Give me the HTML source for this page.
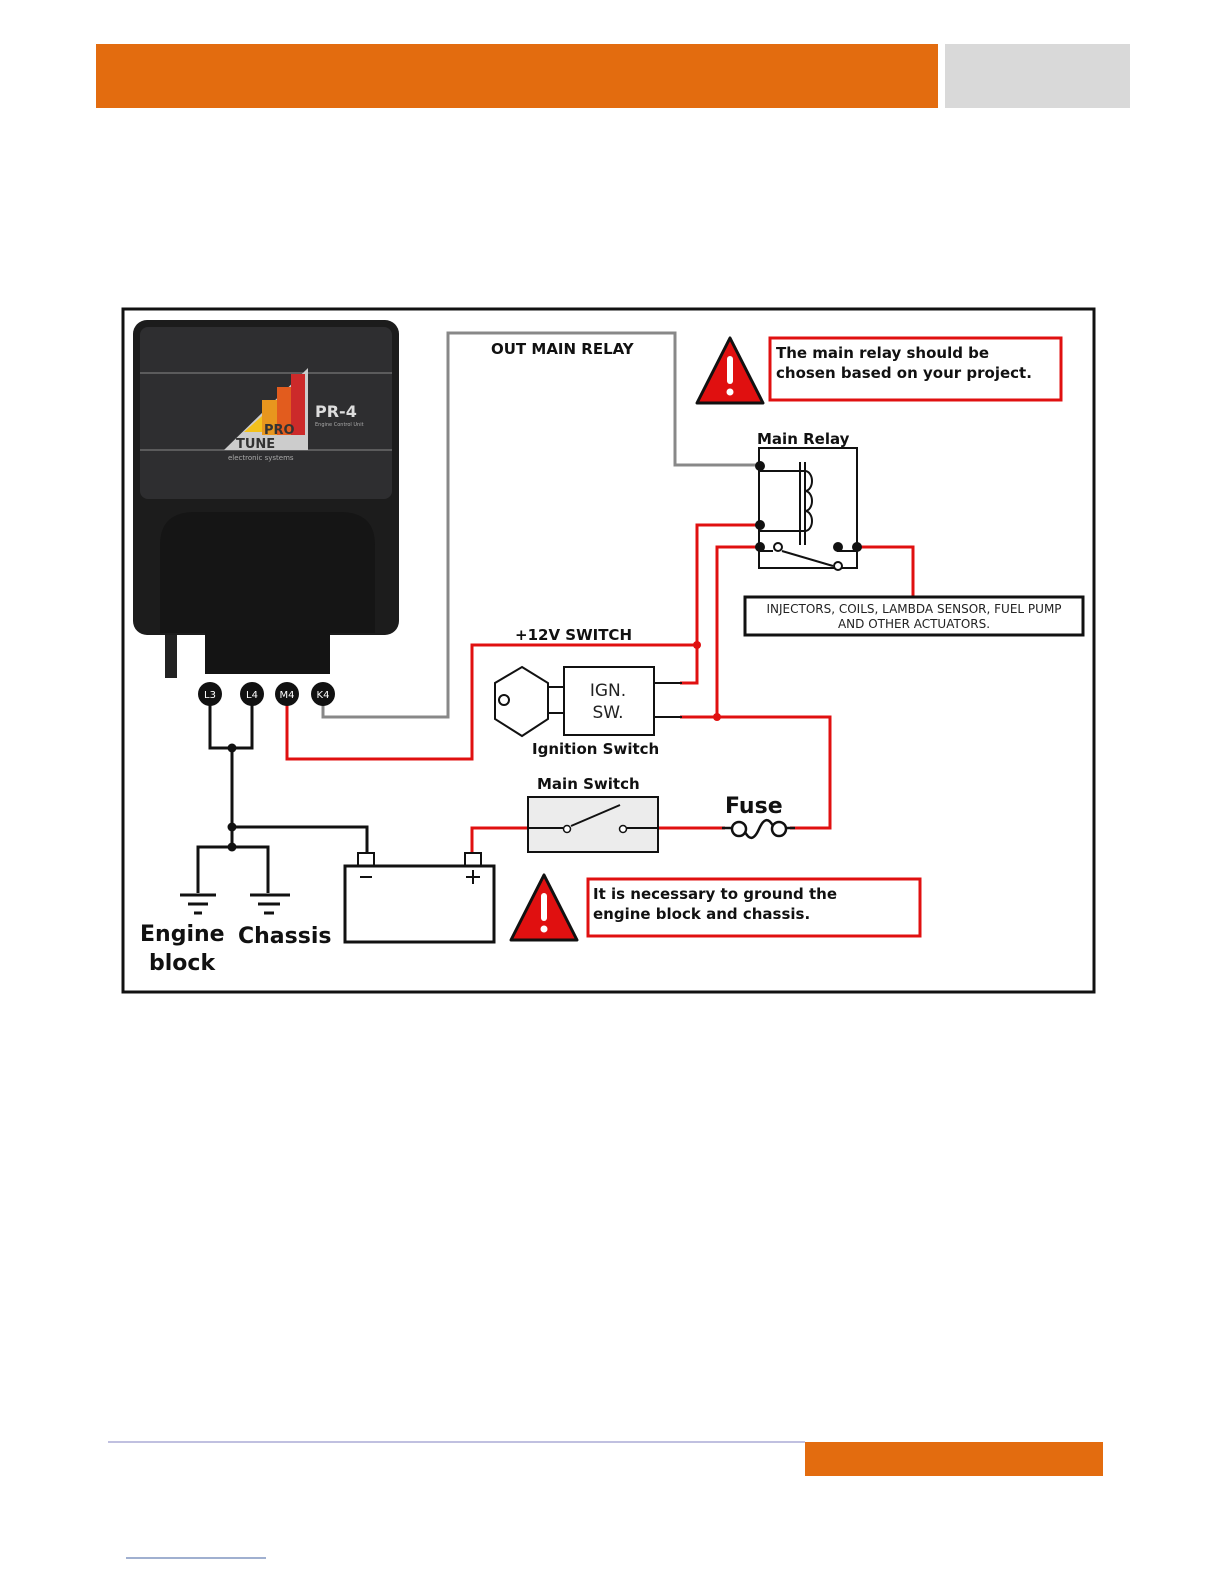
<!DOCTYPE html>
<html><head><meta charset="utf-8"><style>
html,body{margin:0;padding:0;background:#fff;}
svg{display:block;}
text{font-family:"DejaVu Sans","Liberation Sans",sans-serif;}
</style></head><body>
<svg width="1224" height="1584" viewBox="0 0 1224 1584" xmlns="http://www.w3.org/2000/svg">
<rect x="96" y="44" width="842" height="64" fill="#e36c0f"/>
<rect x="945" y="44" width="185" height="64" fill="#d9d9d9"/>
<line x1="108" y1="1442" x2="805" y2="1442" stroke="#8080c0" stroke-width="1"/>
<rect x="805" y="1442" width="298" height="34" fill="#e36c0f"/>
<line x1="126" y1="1558" x2="266" y2="1558" stroke="#4060a0" stroke-width="1"/>

<rect x="123" y="309" width="971" height="683" fill="#fff" stroke="#111" stroke-width="3"/>

<!-- ECU -->
<rect x="165" y="633" width="12" height="45" fill="#222"/>
<rect x="133" y="320" width="266" height="315" rx="14" fill="#1c1c1c"/>
<rect x="140" y="327" width="252" height="172" rx="8" fill="#2e2e30"/>
<line x1="140" y1="373" x2="392" y2="373" stroke="#888" stroke-width="1"/>
<line x1="140" y1="450" x2="392" y2="450" stroke="#888" stroke-width="1"/>
<path d="M160 633 V545 Q160 512 195 512 H340 Q375 512 375 545 V633 Z" fill="#151515"/>
<rect x="205" y="630" width="125" height="44" fill="#141414"/>
<polygon points="224,450 308,368 308,450" fill="#ccc"/>
<polygon points="244,432 262,416 262,432" fill="#f2c11c"/>
<rect x="262" y="400" width="15" height="35" fill="#e8961e"/>
<rect x="277" y="387" width="14" height="48" fill="#e25c1e"/>
<rect x="291" y="374" width="14" height="61" fill="#cc2a2a"/>
<text x="264" y="434" font-size="13" font-weight="bold" fill="#333">PRO</text>
<text x="236" y="448" font-size="13" font-weight="bold" fill="#333">TUNE</text>
<text x="228" y="460" font-size="7" fill="#aaa">electronic systems</text>
<text x="315" y="417" font-size="16" font-weight="bold" fill="#ddd">PR-4</text>
<text x="315" y="426" font-size="5" fill="#aaa">Engine Control Unit</text>

<!-- gray wire -->
<polyline points="323,700 323,717 448,717 448,333 675,333 675,465 760,465" fill="none" stroke="#888" stroke-width="3"/>
<text x="491" y="354" font-size="15" font-weight="bold" fill="#111">OUT MAIN RELAY</text>

<!-- red wires -->
<g fill="none" stroke="#e01010" stroke-width="3">
<polyline points="287,700 287,759 472,759 472,645 697,645"/>
<polyline points="697,645 697,525 760,525"/>
<polyline points="680,683 697,683 697,645"/>
<polyline points="760,547 717,547 717,717 830,717 830,828 790,828"/>
<line x1="680" y1="717" x2="717" y2="717"/>
<polyline points="658,828 725,828"/>
<polyline points="528,828 472,828 472,855"/>
<polyline points="857,547 913,547 913,597"/>
</g>
<circle cx="697" cy="645" r="4" fill="#e01010"/>
<circle cx="717" cy="717" r="4" fill="#e01010"/>
<text x="515" y="640" font-size="15" font-weight="bold" fill="#111">+12V SWITCH</text>

<!-- relay -->
<rect x="759" y="448" width="98" height="120" fill="#fff" stroke="#111" stroke-width="2"/>
<text x="757" y="444" font-size="15" font-weight="bold" fill="#111">Main Relay</text>
<g stroke="#111" stroke-width="2" fill="none">
<line x1="760" y1="471" x2="805" y2="471"/>
<line x1="760" y1="531" x2="805" y2="531"/>
<line x1="800" y1="462" x2="800" y2="545"/>
<line x1="805" y1="462" x2="805" y2="545"/>
<path d="M805 471 a7 10 0 0 1 0 20 a7 10 0 0 1 0 20 a7 10 0 0 1 0 20"/>
<line x1="760" y1="551" x2="773" y2="551"/>
<line x1="782" y1="551" x2="833" y2="566"/>
<line x1="837" y1="551" x2="857" y2="551"/>
</g>
<circle cx="760" cy="466" r="5" fill="#111"/>
<circle cx="760" cy="525" r="5" fill="#111"/>
<circle cx="760" cy="547" r="5" fill="#111"/>
<circle cx="778" cy="547" r="4" fill="#fff" stroke="#111" stroke-width="2"/>
<circle cx="838" cy="566" r="4" fill="#fff" stroke="#111" stroke-width="2"/>
<circle cx="838" cy="547" r="5" fill="#111"/>
<circle cx="857" cy="547" r="5" fill="#111"/>

<rect x="745" y="597" width="338" height="38" fill="#fff" stroke="#111" stroke-width="3"/>
<text x="914" y="613" font-size="12" text-anchor="middle" fill="#222">INJECTORS, COILS, LAMBDA SENSOR, FUEL PUMP</text>
<text x="914" y="628" font-size="12" text-anchor="middle" fill="#222">AND OTHER ACTUATORS.</text>

<!-- warnings -->
<polygon points="730,338 763,403 697,403" fill="#e01010" stroke="#111" stroke-width="3" stroke-linejoin="round"/>
<rect x="727" y="356" width="6" height="28" rx="3" fill="#fff"/><circle cx="730" cy="392" r="3.5" fill="#fff"/>
<rect x="770" y="338" width="291" height="62" fill="#fff" stroke="#e01010" stroke-width="3"/>
<text x="776" y="358" font-size="15" font-weight="bold" fill="#111">The main relay should be</text>
<text x="776" y="378" font-size="15" font-weight="bold" fill="#111">chosen based on your project.</text>

<polygon points="544,875 577,940 511,940" fill="#e01010" stroke="#111" stroke-width="3" stroke-linejoin="round"/>
<rect x="541" y="893" width="6" height="28" rx="3" fill="#fff"/><circle cx="544" cy="929" r="3.5" fill="#fff"/>
<rect x="588" y="879" width="332" height="57" fill="#fff" stroke="#e01010" stroke-width="3"/>
<text x="593" y="899" font-size="15" font-weight="bold" fill="#111">It is necessary to ground the</text>
<text x="593" y="919" font-size="15" font-weight="bold" fill="#111">engine block and chassis.</text>

<!-- ignition -->
<g stroke="#111" stroke-width="2" fill="#fff">
<polygon points="522,667 548,683 548,719 522,736 495,719 495,683"/>
<rect x="548" y="687" width="18" height="26"/>
<rect x="564" y="667" width="90" height="68"/>
<line x1="654" y1="683" x2="682" y2="683"/>
<line x1="654" y1="717" x2="682" y2="717"/>
<circle cx="504" cy="700" r="5"/>
</g>
<text x="608" y="696" font-size="17" text-anchor="middle" fill="#222">IGN.</text>
<text x="608" y="718" font-size="17" text-anchor="middle" fill="#222">SW.</text>
<text x="532" y="754" font-size="15" font-weight="bold" fill="#111">Ignition Switch</text>

<!-- main switch & fuse -->
<rect x="528" y="797" width="130" height="55" fill="#ececec" stroke="#111" stroke-width="2"/>
<g stroke="#111" stroke-width="2" fill="none">
<line x1="528" y1="828" x2="563" y2="828"/>
<line x1="627" y1="828" x2="658" y2="828"/>
<line x1="571" y1="826" x2="620" y2="805"/>
</g>
<circle cx="567" cy="829" r="3.5" fill="#fff" stroke="#111" stroke-width="1.5"/>
<circle cx="623" cy="829" r="3.5" fill="#fff" stroke="#111" stroke-width="1.5"/>
<text x="537" y="789" font-size="15" font-weight="bold" fill="#111">Main Switch</text>
<g stroke="#111" stroke-width="2.5" fill="none">
<line x1="722" y1="828" x2="732" y2="828"/>
<circle cx="739" cy="829" r="7"/>
<circle cx="779" cy="829" r="7"/>
<path d="M745 832 Q752 845 759 829 Q766 813 773 826"/>
<line x1="786" y1="828" x2="795" y2="828"/>
</g>
<text x="725" y="813" font-size="22" font-weight="bold" fill="#111">Fuse</text>

<!-- ground wires -->
<g stroke="#111" stroke-width="3" fill="none">
<polyline points="210,700 210,748 252,748 252,700"/>
<polyline points="232,748 232,847"/>
<polyline points="232,827 367,827 367,855"/>
<polyline points="198,893 198,847 268,847 268,893"/>
<line x1="180" y1="895" x2="216" y2="895"/>
<line x1="188" y1="904" x2="208" y2="904"/>
<line x1="194" y1="913" x2="202" y2="913"/>
<line x1="250" y1="895" x2="290" y2="895"/>
<line x1="258" y1="904" x2="280" y2="904"/>
<line x1="264" y1="913" x2="274" y2="913"/>
</g>
<circle cx="232" cy="748" r="4.5" fill="#111"/>
<circle cx="232" cy="827" r="4.5" fill="#111"/>
<circle cx="232" cy="847" r="4.5" fill="#111"/>

<!-- battery -->
<rect x="358" y="853" width="16" height="13" fill="#fff" stroke="#111" stroke-width="2"/>
<rect x="465" y="853" width="16" height="13" fill="#fff" stroke="#111" stroke-width="2"/>
<rect x="345" y="866" width="149" height="76" fill="#fff" stroke="#111" stroke-width="3"/>
<line x1="360" y1="877" x2="372" y2="877" stroke="#111" stroke-width="2"/>
<line x1="466" y1="877" x2="480" y2="877" stroke="#111" stroke-width="2"/>
<line x1="473" y1="870" x2="473" y2="884" stroke="#111" stroke-width="2"/>

<text x="140" y="941" font-size="22" font-weight="bold" fill="#111">Engine</text>
<text x="149" y="970" font-size="22" font-weight="bold" fill="#111">block</text>
<text x="238" y="943" font-size="22" font-weight="bold" fill="#111">Chassis</text>

<!-- pins -->
<g font-size="10" fill="#fff" text-anchor="middle">
<circle cx="210" cy="694" r="12" fill="#111"/><text x="210" y="698">L3</text>
<circle cx="252" cy="694" r="12" fill="#111"/><text x="252" y="698">L4</text>
<circle cx="287" cy="694" r="12" fill="#111"/><text x="287" y="698">M4</text>
<circle cx="323" cy="694" r="12" fill="#111"/><text x="323" y="698">K4</text>
</g>
</svg>
</body></html>
